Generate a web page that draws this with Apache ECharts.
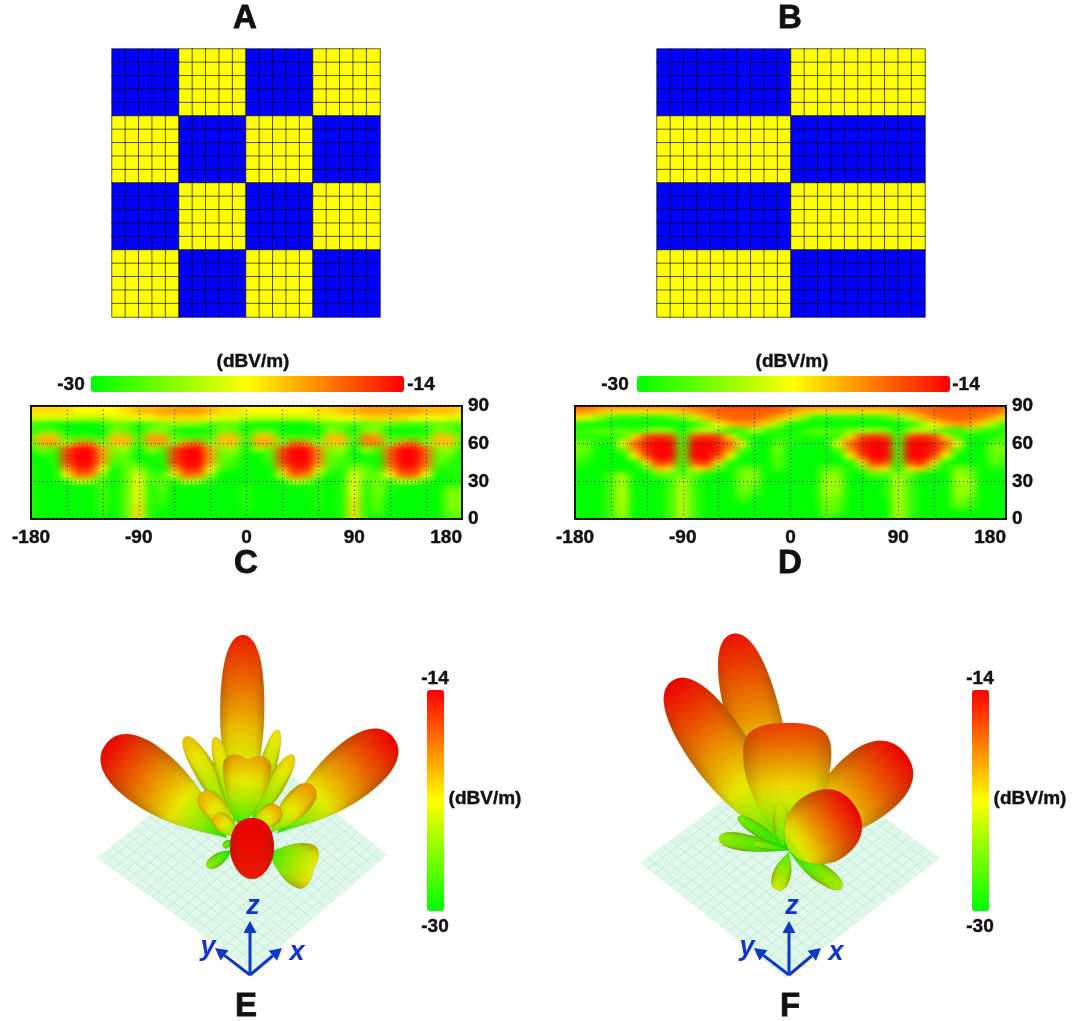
<!DOCTYPE html>
<html>
<head>
<meta charset="utf-8">
<title>pattern</title>
<script src="https://cdn.jsdelivr.net/npm/echarts@6/dist/echarts.min.js"></script>
<style>
	html, body { margin: 0; padding: 0; background: #fff; }
	#main { position: absolute; left: 0; top: 0; width: 1083px; height: 1021px; z-index: 2; }
	.clip { position: absolute; overflow: hidden; background: #00ff00; z-index: 1; }
	.heat { position: absolute; filter: url(#soften); }
</style>
</head>
<body>
<svg width="0" height="0" style="position:absolute">
	<filter id="soften" x="-5%" y="-10%" width="110%" height="120%" color-interpolation-filters="sRGB">
		<feGaussianBlur stdDeviation="5 2.6"></feGaussianBlur>
	</filter>
</svg>
<div class="clip" style="left:31px;top:406px;width:431px;height:113px"><div id="heatC" class="heat" style="left:-30px;top:-16px;width:491px;height:145px"></div></div>
<div class="clip" style="left:575px;top:406px;width:431px;height:113px"><div id="heatD" class="heat" style="left:-30px;top:-16px;width:491px;height:145px"></div></div>
<div id="main"></div>
<script>
//coding patterns, 0 = blue block, 1 = yellow block
var blocksA = [[0, 1, 0, 1], [1, 0, 1, 0], [0, 1, 0, 1], [1, 0, 1, 0]];
var blocksB = [[0, 1], [1, 0], [0, 1], [1, 0]];

//far field in dBV/m, rows from theta 90 down to 0, columns phi -180..180 every 10
var fieldC = [
	[-21,-21,-21,-21,-22,-22,-22,-22,-21,-20, -20,-20,-19,-19,-19,-20,-21,-21,-22,-22, -22,-22,-22,-22,-21,-21,-20,-20,-19,-19, -19,-19,-19,-20,-20,-20,-21],
	[-21,-21,-21,-21,-22,-22,-22,-22,-21,-20, -20,-19,-19,-19,-19,-20,-21,-21,-22,-22, -22,-22,-22,-22,-21,-21,-20,-20,-19,-19, -19,-19,-19,-20,-20,-20,-21],
	[-23,-23,-23,-23,-24,-24,-24,-23,-23,-22, -22,-21,-21,-21,-21,-22,-23,-23,-24,-24, -24,-24,-24,-24,-23,-23,-22,-22,-21,-21, -21,-21,-22,-22,-22,-23,-23],
	[-28,-29,-30,-30,-30,-30,-29,-27,-27,-29, -28,-26,-26,-26,-26,-28,-27,-27,-29,-30, -30,-30,-30,-30,-28,-27,-27,-28,-27,-26, -27,-28,-28,-28,-27,-27,-28],
	[-29,-27,-27,-30,-30,-30,-30,-26,-27,-30, -26,-26,-29,-30,-30,-29,-26,-27,-30,-27, -27,-30,-30,-30,-30,-26,-27,-30,-26,-26, -30,-30,-30,-29,-26,-27,-29],
	[-27,-20,-20,-28,-28,-28,-29,-20,-20,-28, -19,-19,-27,-28,-28,-28,-20,-20,-28,-20, -20,-28,-28,-28,-28,-20,-20,-28,-18,-19, -28,-28,-28,-28,-20,-20,-27],
	[-27,-19,-19,-25,-18,-18,-26,-20,-20,-29, -19,-19,-26,-18,-17,-26,-20,-20,-29,-19, -19,-26,-17,-18,-26,-20,-20,-29,-18,-18, -26,-18,-17,-26,-20,-20,-27],
	[-29,-26,-28,-16,-14,-14,-19,-26,-25,-30, -25,-28,-16,-14,-14,-19,-26,-25,-30,-25, -27,-16,-14,-14,-18,-26,-25,-30,-25,-28, -17,-14,-14,-17,-26,-25,-29],
	[-30,-29,-29,-16,-14,-14,-19,-27,-27,-30, -29,-29,-16,-14,-14,-19,-27,-27,-30,-30, -28,-16,-14,-14,-18,-27,-27,-30,-29,-29, -17,-14,-14,-17,-27,-27,-30],
	[-30,-30,-29,-16,-14,-14,-19,-28,-27,-29, -30,-29,-16,-14,-14,-19,-27,-28,-30,-30, -28,-16,-14,-14,-18,-27,-28,-29,-29,-30, -17,-14,-14,-17,-27,-28,-30],
	[-29,-30,-30,-19,-15,-15,-22,-30,-27,-25, -29,-30,-19,-15,-15,-22,-28,-29,-30,-30, -30,-19,-15,-15,-21,-28,-29,-25,-27,-29, -19,-15,-15,-19,-29,-29,-29],
	[-29,-30,-30,-22,-17,-18,-26,-30,-27,-23, -28,-28,-23,-17,-18,-25,-30,-30,-30,-30, -30,-23,-17,-18,-25,-30,-29,-23,-27,-27, -22,-17,-17,-22,-30,-29,-29],
	[-29,-30,-30,-28,-24,-25,-28,-30,-27,-22, -28,-27,-29,-24,-25,-29,-30,-30,-30,-30, -30,-29,-24,-25,-29,-30,-29,-22,-28,-26, -28,-24,-25,-28,-30,-30,-29],
	[-29,-30,-30,-30,-30,-30,-28,-30,-27,-22, -29,-27,-30,-30,-30,-30,-30,-30,-29,-30, -30,-30,-30,-30,-29,-30,-29,-22,-29,-26, -29,-30,-30,-30,-30,-27,-27],
	[-29,-30,-30,-30,-30,-30,-28,-30,-27,-22, -29,-28,-30,-30,-30,-30,-30,-30,-29,-30, -30,-30,-30,-30,-29,-30,-29,-22,-29,-26, -30,-30,-30,-30,-30,-26,-26],
	[-29,-30,-30,-30,-30,-30,-28,-30,-27,-22, -29,-28,-30,-30,-30,-30,-30,-30,-29,-30, -30,-30,-30,-30,-29,-30,-29,-21,-29,-27, -30,-30,-30,-30,-30,-26,-26],
	[-29,-30,-30,-30,-30,-30,-28,-30,-27,-21, -29,-29,-30,-30,-30,-30,-30,-30,-29,-30, -30,-30,-30,-30,-29,-30,-29,-21,-29,-27, -30,-30,-30,-30,-30,-26,-26],
	[-29,-30,-30,-30,-30,-30,-29,-30,-27,-21, -29,-30,-30,-30,-30,-30,-30,-30,-30,-30, -30,-30,-30,-30,-30,-30,-29,-21,-29,-28, -30,-30,-30,-30,-30,-27,-27],
	[-29,-30,-30,-30,-30,-30,-29,-30,-27,-21, -29,-30,-30,-30,-30,-30,-30,-30,-30,-30, -30,-30,-30,-30,-30,-30,-29,-21,-29,-29, -30,-30,-30,-30,-30,-27,-27]
];
var fieldD = [
	[-17,-17,-18,-18,-18,-18,-18,-18,-18,-18, -17,-17,-17,-16,-16,-16,-16,-17,-17,-18, -18,-18,-18,-18,-18,-18,-18,-18,-17,-17, -17,-16,-16,-16,-16,-17,-17],
	[-19,-19,-20,-21,-21,-21,-21,-21,-21,-20, -19,-18,-17,-17,-17,-17,-17,-17,-19,-20, -21,-21,-21,-21,-21,-21,-21,-20,-19,-18, -17,-17,-17,-17,-17,-17,-19],
	[-21,-23,-25,-28,-29,-29,-29,-29,-28,-26, -24,-20,-18,-17,-17,-17,-18,-20,-21,-25, -29,-29,-29,-29,-29,-29,-28,-26,-24,-20, -18,-17,-17,-17,-18,-20,-21],
	[-29,-30,-30,-30,-30,-30,-30,-30,-30,-30, -29,-26,-22,-20,-19,-19,-21,-25,-29,-30, -30,-30,-30,-30,-30,-30,-30,-30,-29,-26, -22,-20,-19,-19,-21,-25,-29],
	[-29,-28,-27,-27,-27,-28,-26,-25,-26,-30, -25,-24,-26,-29,-28,-24,-28,-29,-30,-29, -27,-27,-28,-26,-25,-25,-26,-30,-25,-24, -26,-28,-29,-26,-28,-29,-29],
	[-28,-29,-29,-29,-28,-21,-16,-15,-16,-28, -16,-15,-16,-21,-28,-30,-30,-29,-29,-29, -29,-29,-28,-21,-16,-15,-16,-28,-16,-15, -16,-21,-28,-30,-30,-29,-28],
	[-27,-27,-29,-30,-22,-17,-15,-14,-14,-28, -14,-14,-15,-17,-22,-30,-30,-27,-29,-30, -30,-30,-22,-17,-15,-14,-14,-28,-14,-14, -15,-17,-22,-30,-30,-27,-27],
	[-26,-27,-30,-30,-27,-19,-15,-14,-14,-28, -14,-14,-15,-19,-27,-30,-30,-26,-30,-30, -30,-30,-27,-19,-15,-14,-14,-28,-14,-14, -15,-19,-27,-30,-30,-26,-26],
	[-27,-28,-30,-30,-30,-22,-16,-14,-14,-28, -14,-14,-16,-22,-30,-30,-30,-27,-30,-30, -30,-30,-30,-22,-16,-14,-14,-28,-14,-14, -16,-22,-30,-30,-30,-27,-27],
	[-28,-29,-30,-30,-30,-29,-21,-15,-16,-28, -16,-15,-21,-29,-30,-30,-30,-27,-30,-30, -30,-30,-30,-29,-21,-15,-16,-28,-16,-15, -21,-29,-30,-30,-30,-27,-28],
	[-29,-30,-30,-30,-30,-30,-27,-20,-21,-30, -21,-20,-27,-30,-27,-27,-30,-28,-30,-30, -30,-27,-27,-30,-27,-20,-21,-30,-21,-20, -27,-30,-26,-27,-30,-29,-29],
	[-30,-30,-30,-28,-25,-30,-30,-27,-27,-27, -27,-30,-30,-30,-26,-26,-30,-30,-30,-30, -30,-26,-26,-30,-30,-27,-28,-25,-27,-30, -30,-30,-25,-26,-30,-30,-30],
	[-30,-30,-30,-28,-24,-30,-30,-30,-28,-24, -28,-30,-30,-30,-26,-26,-30,-30,-30,-30, -30,-25,-25,-30,-30,-30,-29,-24,-28,-30, -30,-30,-25,-25,-30,-30,-30],
	[-30,-30,-30,-28,-24,-30,-30,-30,-28,-24, -28,-30,-30,-30,-26,-27,-30,-30,-30,-30, -30,-25,-25,-30,-30,-30,-29,-24,-28,-30, -30,-30,-25,-25,-30,-30,-30],
	[-30,-30,-30,-28,-24,-30,-30,-30,-28,-24, -28,-30,-30,-30,-27,-28,-30,-30,-30,-30, -30,-25,-26,-30,-30,-30,-29,-24,-28,-30, -30,-30,-25,-26,-30,-30,-30],
	[-30,-30,-30,-28,-24,-30,-30,-30,-28,-24, -28,-30,-30,-30,-28,-30,-30,-30,-30,-30, -30,-26,-27,-30,-30,-30,-30,-24,-28,-30, -30,-30,-26,-27,-30,-30,-30],
	[-30,-30,-30,-28,-24,-30,-30,-30,-28,-24, -28,-30,-30,-30,-30,-30,-30,-30,-30,-30, -30,-26,-27,-30,-30,-30,-30,-24,-28,-30, -30,-30,-27,-28,-30,-30,-30],
	[-30,-30,-30,-28,-25,-30,-30,-30,-28,-24, -28,-30,-30,-30,-30,-30,-30,-30,-30,-30, -30,-27,-28,-30,-30,-30,-30,-24,-28,-30, -30,-30,-30,-30,-30,-30,-30],
	[-30,-30,-30,-28,-25,-30,-30,-30,-28,-24, -28,-30,-30,-30,-30,-30,-30,-30,-30,-30, -30,-28,-30,-30,-30,-30,-30,-24,-28,-30, -30,-30,-30,-30,-30,-30,-30]
];

//radiation lobes, back to front
//baseX, baseY, tipX, tipY, width, fat, blunt, notch, baseDb, peakDb
var lobesE = [
	[-2, 0, 0, 198, 44, 0.62, 0, 0, -30, -15],
	[-16, -5, -137, 89, 60, 0.68, 0, 0, -30, -14],
	[34, 0, 150, 96, 56, 0.68, 0, 0, -30, -14],
	[-6, 10, -58, 96, 22, 0.55, 0, 0, -28, -20.5],
	[-5, 10, -28, 96, 17, 0.5, 0, 0, -28, -21],
	[9, 10, 35, 103, 17, 0.5, 0, 0, -28, -21.5],
	[10, 10, 50, 78, 18, 0.55, 0, 0, -28, -21],
	[0, 6, 5, 78, 48, 0.85, 0, 5, -29, -19.5],
	[-6, 0, -42, 40, 24, 0.6, 0, 0, -27, -20],
	[27, 0, 70, 47, 26, 0.65, 0, 0, -27, -19],
	[-6, -4, -28, 18, 18, 0.6, 0, 0, -27, -20],
	[10, 5, 37, 25, 22, 0.6, 0, 0, -27, -19.5],
	[-11, -17, -36, -34, 12, 0.6, 0, 0, -30, -25],
	[-10, -7, -20, -14, 7, 0.6, 0, 0, -30, -26],
	[25, -20, 72, -37, 46, 0.8, 0, 2, -29, -22],
	[9, -46, 9, 15, 44, 0.5, 1, 0, -15, -14]
];
var lobesF = [
	[0, 0, -56, 216, 54, 0.62, 0, 0, -30, -14.5],
	[0, 0, -116, 169, 60, 0.62, 0, 0, -30, -14],
	[0, 0, 117, 97, 70, 0.7, 0, 0, -30, -14],
	[0, 0, -1, 127, 88, 0.76, 0, 0, -30, -16],
	[0, 0, -50, 33, 12, 0.6, 0, 0, -30, -26],
	[-5, 3, -8, 46, 16, 0.5, 0, 0, -28, -23],
	[0, 0, -69, 12, 17, 0.7, 0, 0, -30, -25],
	[0, 0, -35, 7, 8, 0.6, 0, 0, -30, -25],
	[1, -2, -11, -40, 18, 0.65, 0, 0, -28, -23],
	[0, 0, 54, -38, 18, 0.6, 0, 0, -30, -24],
	[1, 0, 67, 44, 72, 0.5, 1, 0, -25, -14]
];
//ground plane corners left, top, right, bottom
var planeE = [[-146, -25], [2, 96], [144, -22], [9, -138]];
var planeF = [[-148, -13], [3, 100], [152, -8], [-2, -128]];
var triadE = [[7, -142]];
var triadF = [[1, -125]];

var xTickLabels = [-180, -90, 0, 90, 180];
var yTickLabels = [0, 30, 60, 90];
var panelLabels = ['A', 'B', 'C', 'D', 'E', 'F'];
var unitLabel = '(dBV/m)';
var rangeLow = -30;
var rangeHigh = -14;

var fontName = '"Liberation Sans", Arial, sans-serif';
var colormap = ['#00ff00', '#ffff00', '#ff0000'];
var triadColor = '#1038c8';

function expandBlocks(blocks, rowCells, colCells) {
	var out = [];
	var rows = blocks.length * rowCells;
	for(var r = 0; r < rows; r++) {
		var row = blocks[Math.floor(r / rowCells)];
		for(var c = 0; c < row.length * colCells; c++) {
			out.push([c, rows - 1 - r, row[Math.floor(c / colCells)]]);
		}
	}
	return out;
}

//two extra cells all round, hidden by the clip, so the blur has no soft edge
var heatPad = 2;
function fieldToCells(field) {
	var out = [];
	var rows = field.length;
	var cols = field[0].length;
	for(var r = -heatPad; r < rows + heatPad; r++) {
		for(var c = -heatPad; c < cols + heatPad; c++) {
			var rr = Math.max(0, Math.min(rows - 1, r));
			var cc = Math.max(0, Math.min(cols - 1, c));
			out.push([c + heatPad, rows - 1 - r + heatPad, field[rr][cc]]);
		}
	}
	return out;
}

function indexList(n) {
	var out = [];
	for(var i = 0; i < n; i++) {
		out.push(i);
	}
	return out;
}

function colorAt(v, shade) {
	var t = Math.max(0, Math.min(1, (v - rangeLow) / (rangeHigh - rangeLow)));
	var rr = t < 0.5 ? t * 2 : 1;
	var gg = t < 0.5 ? 1 : (1 - t) * 2;
	return 'rgb(' + Math.round(255 * rr * shade) + ',' + Math.round(255 * gg * shade) + ',0)';
}

//one side of a lobe as points in (along, across)
function lobeSide(L, hw, fat, blunt, notch) {
	var round = fat >= 0.75 ? 0.85 : 0.66;
	var segs = [
		[[0, 0], [fat * L * 0.22 * (1 - blunt), hw * (0.3 + 0.25 * blunt)], [fat * L * 0.55, hw], [fat * L, hw]],
		[[fat * L, hw], [fat * L + (1 - fat) * L * 0.62, hw], [L + notch, hw * (notch ? 0.6 : round)], [L - notch, 0]]
	];
	var pts = [];
	for(var s = 0; s < 2; s++) {
		var p = segs[s];
		for(var i = (s ? 1 : 0); i <= 18; i++) {
			var t = i / 18, m = 1 - t;
			pts.push([
				m * m * m * p[0][0] + 3 * m * m * t * p[1][0] + 3 * m * t * t * p[2][0] + t * t * t * p[3][0],
				m * m * m * p[0][1] + 3 * m * m * t * p[1][1] + 3 * m * t * t * p[2][1] + t * t * t * p[3][1]
			]);
		}
	}
	return pts;
}

function renderLobe(params, api) {
	var base = api.coord([api.value(0), api.value(1)]);
	var tip = api.coord([api.value(2), api.value(3)]);
	var w = api.size([api.value(4), 0])[0];
	var fat = api.value(5), blunt = api.value(6), notch = api.value(7);
	var baseDb = api.value(8), peakDb = api.value(9);
	var dx = tip[0] - base[0], dy = tip[1] - base[1];
	var L = Math.sqrt(dx * dx + dy * dy);
	var ux = dx / L, uy = dy / L, px = -uy, py = ux;
	var side = lobeSide(L, w / 2, fat, blunt, notch);
	var points = [];
	for(var i = 0; i < side.length; i++) {
		points.push([base[0] + ux * side[i][0] + px * side[i][1], base[1] + uy * side[i][0] + py * side[i][1]]);
	}
	for(var j = side.length - 2; j > 0; j--) {
		points.push([base[0] + ux * side[j][0] - px * side[j][1], base[1] + uy * side[j][0] - py * side[j][1]]);
	}
	var stops = [];
	for(var k = 0; k <= 8; k++) {
		stops.push({ offset: k / 8, color: colorAt(baseDb + (peakDb - baseDb) * Math.pow(k / 8, 0.72), 0.92) });
	}
	var mx = base[0] + ux * fat * L, my = base[1] + uy * fat * L;
	var dark = 'rgba(110,40,0,0.32)', soft = 'rgba(110,40,0,0.05)', clear = 'rgba(110,40,0,0)';
	return {
		type: 'group',
		children: [{
			type: 'polygon',
			shape: { points: points },
			style: { fill: new echarts.graphic.LinearGradient(base[0], base[1], tip[0], tip[1], stops, true) }
		}, {
			type: 'polygon',
			shape: { points: points },
			style: {
				fill: new echarts.graphic.LinearGradient(mx + px * w / 2, my + py * w / 2, mx - px * w / 2, my - py * w / 2, [
					{ offset: 0, color: dark }, { offset: 0.2, color: soft }, { offset: 0.45, color: clear },
					{ offset: 0.55, color: clear }, { offset: 0.8, color: soft }, { offset: 1, color: dark }
				], true),
				stroke: 'rgba(120,70,0,0.2)',
				lineWidth: 0.7
			}
		}]
	};
}

function renderPlane(corners) {
	return function(params, api) {
		var c = [];
		for(var i = 0; i < 4; i++) {
			c.push(api.coord(corners[i]));
		}
		var kids = [{
			type: 'polygon',
			shape: { points: c },
			style: { fill: '#dff8ea' }
		}];
		var n = 20;
		for(var k = 1; k < n; k++) {
			var t = k / n;
			kids.push({
				type: 'line',
				shape: { x1: c[0][0] + (c[1][0] - c[0][0]) * t, y1: c[0][1] + (c[1][1] - c[0][1]) * t, x2: c[3][0] + (c[2][0] - c[3][0]) * t, y2: c[3][1] + (c[2][1] - c[3][1]) * t },
				style: { stroke: 'rgba(140,210,180,0.42)', lineWidth: 0.8 }
			});
			kids.push({
				type: 'line',
				shape: { x1: c[0][0] + (c[3][0] - c[0][0]) * t, y1: c[0][1] + (c[3][1] - c[0][1]) * t, x2: c[1][0] + (c[2][0] - c[1][0]) * t, y2: c[1][1] + (c[2][1] - c[1][1]) * t },
				style: { stroke: 'rgba(140,210,180,0.42)', lineWidth: 0.8 }
			});
		}
		return { type: 'group', children: kids };
	};
}

function arrow(o, tip) {
	var dx = tip[0] - o[0], dy = tip[1] - o[1];
	var L = Math.sqrt(dx * dx + dy * dy);
	var ux = dx / L, uy = dy / L;
	var bx = tip[0] - ux * 12, by = tip[1] - uy * 12;
	return [{
		type: 'line',
		shape: { x1: o[0], y1: o[1], x2: bx, y2: by },
		style: { stroke: triadColor, lineWidth: 3 }
	}, {
		type: 'polygon',
		shape: { points: [tip, [bx - uy * 6.5, by + ux * 6.5], [bx + uy * 6.5, by - ux * 6.5]] },
		style: { fill: triadColor }
	}];
}

function renderTriad(params, api) {
	var ox = api.value(0), oy = api.value(1);
	var o = api.coord([ox, oy]);
	var kids = arrow(o, api.coord([ox, oy + 54]))
		.concat(arrow(o, api.coord([ox - 35, oy + 27])))
		.concat(arrow(o, api.coord([ox + 32, oy + 27])));
	var names = [['z', 3, 68], ['y', -42, 27], ['x', 47, 22]];
	for(var i = 0; i < 3; i++) {
		var p = api.coord([ox + names[i][1], oy + names[i][2]]);
		kids.push({
			type: 'text',
			x: p[0],
			y: p[1],
			style: { text: names[i][0], fill: triadColor, font: 'italic bold 27px ' + fontName, align: 'center', verticalAlign: 'middle' }
		});
	}
	return { type: 'group', children: kids };
}

function bigText(text, x, y, size) {
	return {
		type: 'text',
		x: x,
		y: y,
		style: { text: text, fill: '#111', stroke: '#111', lineWidth: size > 20 ? 0.8 : 0.4, font: 'bold ' + size + 'px ' + fontName, align: 'center', verticalAlign: 'middle' }
	};
}

function colorBar(left, top, vertical) {
	return {
		type: 'continuous',
		seriesIndex: [],
		min: rangeLow,
		max: rangeHigh,
		orient: vertical ? 'vertical' : 'horizontal',
		left: left,
		top: top,
		padding: 0,
		itemWidth: vertical ? 17 : 16,
		itemHeight: vertical ? 221 : 313,
		text: null,
		showLabel: false,
		calculable: false,
		inRange: { color: colormap }
	};
}

function tickLabelStyle(margin, list) {
	return {
		color: '#111',
		fontFamily: fontName,
		fontWeight: 'bold',
		fontSize: 19,
		margin: margin,
		textBorderColor: '#111',
		textBorderWidth: 0.4,
		formatter: function(v) {
			return list.indexOf(v) >= 0 ? String(v) : '';
		}
	};
}

var dottedLine = { show: true, lineStyle: { color: '#3a3a20', type: [1, 3], width: 1 } };

function fieldXAxis(i) {
	var label = tickLabelStyle(9, xTickLabels);
	label.alignMaxLabel = 'right';
	return {
		gridIndex: i,
		type: 'value',
		min: -180,
		max: 180,
		interval: 30,
		axisLine: { show: false },
		axisTick: { show: false },
		splitLine: dottedLine,
		axisLabel: label
	};
}

function fieldYAxis(i) {
	var label = tickLabelStyle(6, yTickLabels);
	label.padding = [3, 0, 0, 0];
	return {
		gridIndex: i,
		type: 'value',
		position: 'right',
		min: 0,
		max: 90,
		interval: 30,
		axisLine: { show: false },
		axisTick: { show: false },
		splitLine: dottedLine,
		axisLabel: label
	};
}

function cellSeries(i, cells) {
	return {
		type: 'heatmap',
		xAxisIndex: i,
		yAxisIndex: i,
		data: cells,
		itemStyle: { borderColor: 'rgba(0,0,0,0.62)', borderWidth: 1 }
	};
}

function patternAxis(i) {
	return { gridIndex: i, type: 'category', show: false, data: indexList(20) };
}

function shapeSeries(i, data, render, z) {
	return {
		type: 'custom',
		xAxisIndex: i,
		yAxisIndex: i,
		coordinateSystem: 'cartesian2d',
		clip: false,
		silent: true,
		z: z,
		data: data,
		renderItem: render
	};
}

function drawHeat(id, field) {
	var chart = echarts.init(document.getElementById(id));
	chart.setOption({
		animation: false,
		grid: { left: 0, right: 0, top: 0, bottom: 0 },
		xAxis: { type: 'category', show: false, data: indexList(field[0].length + heatPad * 2) },
		yAxis: { type: 'category', show: false, data: indexList(field.length + heatPad * 2) },
		visualMap: { show: false, min: rangeLow, max: rangeHigh, dimension: 2, inRange: { color: colormap } },
		series: [{ type: 'heatmap', data: fieldToCells(field) }]
	});
}

drawHeat('heatC', fieldC);
drawHeat('heatD', fieldD);

var myChart = echarts.init(document.getElementById('main'));
myChart.setOption({
	animation: false,
	backgroundColor: 'transparent',
	grid: [
		{ left: 112, top: 49, width: 268, height: 268 },
		{ left: 657, top: 49, width: 268, height: 268 },
		{ left: 31, top: 406, width: 431, height: 113, show: true, borderColor: '#111', borderWidth: 2, backgroundColor: 'transparent' },
		{ left: 575, top: 406, width: 431, height: 113, show: true, borderColor: '#111', borderWidth: 2, backgroundColor: 'transparent' },
		{ left: 83, top: 613, width: 340, height: 370 },
		{ left: 628, top: 615, width: 340, height: 370 }
	],
	xAxis: [
		patternAxis(0),
		patternAxis(1),
		fieldXAxis(2),
		fieldXAxis(3),
		{ gridIndex: 4, type: 'value', show: false, min: -160, max: 180 },
		{ gridIndex: 5, type: 'value', show: false, min: -160, max: 180 }
	],
	yAxis: [
		patternAxis(0),
		patternAxis(1),
		fieldYAxis(2),
		fieldYAxis(3),
		{ gridIndex: 4, type: 'value', show: false, min: -150, max: 220 },
		{ gridIndex: 5, type: 'value', show: false, min: -135, max: 235 }
	],
	visualMap: [{
		type: 'piecewise',
		show: false,
		seriesIndex: [0, 1],
		dimension: 2,
		pieces: [{ value: 0, color: '#0000ff' }, { value: 1, color: '#ffff00' }]
	},
		colorBar(91, 376, false),
		colorBar(637, 376, false),
		colorBar(427, 690, true),
		colorBar(972, 690, true)
	],
	series: [
		cellSeries(0, expandBlocks(blocksA, 5, 5)),
		cellSeries(1, expandBlocks(blocksB, 5, 10)),
		shapeSeries(4, [[0, 0]], renderPlane(planeE), 2),
		shapeSeries(5, [[0, 0]], renderPlane(planeF), 2),
		shapeSeries(4, lobesE, renderLobe, 3),
		shapeSeries(5, lobesF, renderLobe, 3),
		shapeSeries(4, triadE, renderTriad, 4),
		shapeSeries(5, triadF, renderTriad, 4)
	],
	graphic: [
		bigText(panelLabels[0], 245, 19, 33),
		bigText(panelLabels[1], 790, 19, 33),
		bigText(panelLabels[2], 246, 564, 33),
		bigText(panelLabels[3], 790, 564, 33),
		bigText(panelLabels[4], 246, 1007, 33),
		bigText(panelLabels[5], 790, 1007, 33),
		bigText(unitLabel, 253, 362, 19),
		bigText(unitLabel, 792, 362, 19),
		bigText(unitLabel, 485, 799, 19),
		bigText(unitLabel, 1030, 799, 19),
		bigText(String(rangeLow), 71, 385, 19),
		bigText(String(rangeHigh), 421, 385, 19),
		bigText(String(rangeLow), 615, 385, 19),
		bigText(String(rangeHigh), 966, 385, 19),
		bigText(String(rangeHigh), 435, 679, 19),
		bigText(String(rangeLow), 435, 927, 19),
		bigText(String(rangeHigh), 980, 679, 19),
		bigText(String(rangeLow), 980, 927, 19)
	]
});
</script>
</body>
</html>
